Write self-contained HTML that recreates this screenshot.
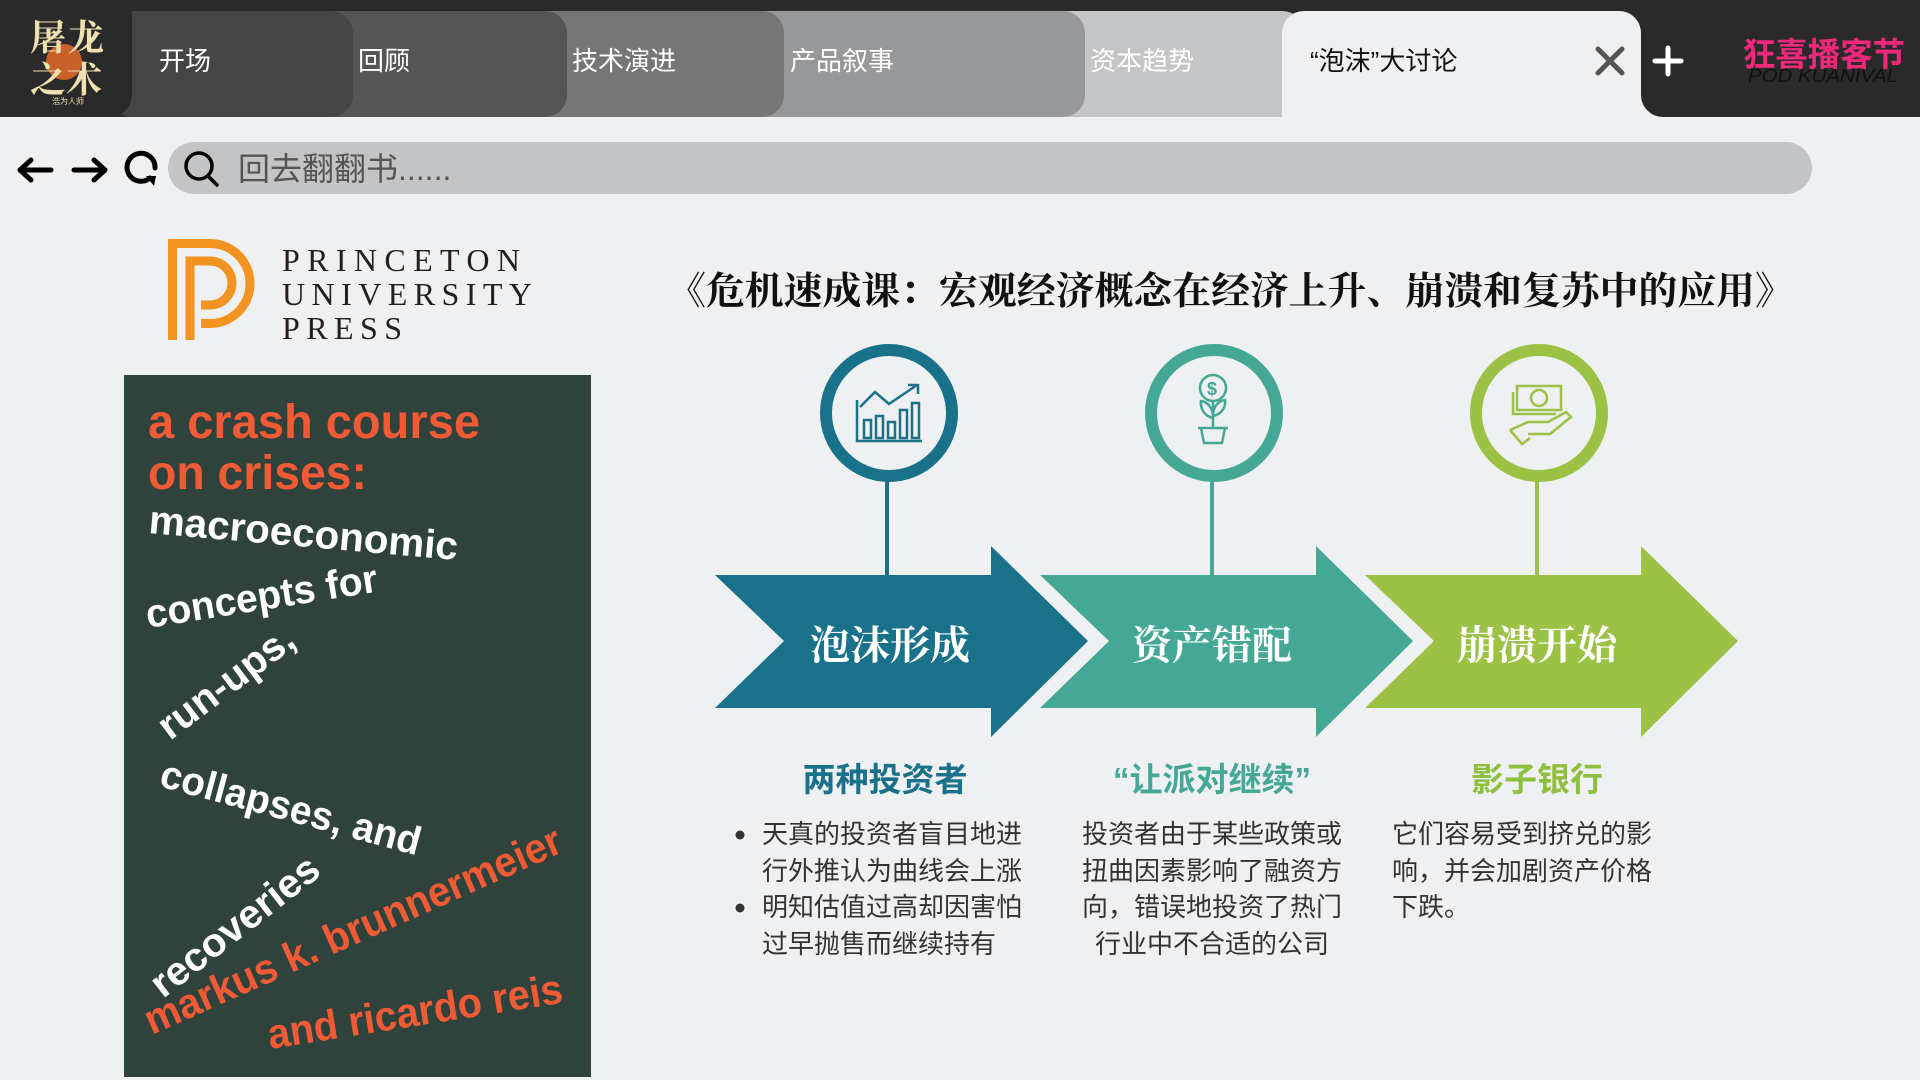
<!DOCTYPE html>
<html><head><meta charset="utf-8">
<style>
html,body{margin:0;padding:0;width:1920px;height:1080px;overflow:hidden;background:#eff0f2;}
svg{display:block}
.cjk{font-family:"Liberation Sans","Noto Sans CJK SC",sans-serif;}
.serif{font-family:"Liberation Serif","Noto Serif CJK SC",serif;}
</style></head>
<body>
<svg width="1920" height="1080" viewBox="0 0 1920 1080" xmlns="http://www.w3.org/2000/svg">
<rect x="0" y="0" width="1920" height="1080" fill="#eff0f2"/>
<!-- top bar -->
<rect x="0" y="0" width="1920" height="117" fill="#2a2a2a"/>
<path d="M1641,117 V95 a22,22 0 0 0 22,22 Z" fill="#eff0f2"/>
<rect x="1041" y="11" width="263" height="106" rx="22" fill="#c4c5c7"/>
<rect x="740" y="11" width="345" height="106" rx="22" fill="#97989a"/>
<rect x="523" y="11" width="261" height="106" rx="22" fill="#767676"/>
<rect x="309" y="11" width="258" height="106" rx="22" fill="#555555"/>
<rect x="110" y="11" width="243" height="106" rx="22" fill="#454545"/>
<rect x="-30" y="-10" width="162" height="127" rx="22" fill="#2a2a2a"/>
<path d="M1282,117 V33 a22,22 0 0 1 22,-22 H1619 a22,22 0 0 1 22,22 V117 Z" fill="#eff0f2"/>
<g class="cjk" font-size="26" fill="#fff">
<text x="159" y="70">开场</text>
<text x="358" y="70">回顾</text>
<text x="572" y="70">技术演进</text>
<text x="790" y="70">产品叙事</text>
<text x="1090" y="70">资本趋势</text>
<text x="1310" y="70" fill="#111">“泡沫”大讨论</text>
</g>
<!-- close & plus -->
<path d="M1598,49 L1622,73 M1622,49 L1598,73" stroke="#555" stroke-width="5" stroke-linecap="round"/>
<path d="M1668,48 V74 M1655,61 H1681" stroke="#fff" stroke-width="5" stroke-linecap="round"/>
<!-- left logo -->
<circle cx="64" cy="62" r="18" fill="#c8612a"/>
<g class="serif" fill="#efe0b0" font-weight="bold" font-size="36">
<text x="30" y="50">屠</text><text x="68" y="50">龙</text>
<text x="30" y="92">之</text><text x="66" y="92">术</text>
</g>
<text x="52" y="104" class="cjk" font-size="8" fill="#efe0b0">浩为人师</text>
<!-- right logo -->
<text x="1743" y="66" class="cjk" font-size="33" font-weight="bold" fill="#f0287a" textLength="162" lengthAdjust="spacingAndGlyphs">狂喜播客节</text>
<text x="1748" y="82" font-family="Liberation Sans, sans-serif" font-style="italic" font-size="18" fill="#111" textLength="150" lengthAdjust="spacingAndGlyphs">POD KUANIVAL</text>
<!-- nav -->
<g stroke="#000" stroke-width="5" fill="none" stroke-linecap="round" stroke-linejoin="round">
<path d="M20,170 H51 M31,160 L20,170 L31,180"/>
<path d="M74,170 H105 M94,160 L105,170 L94,180"/>
<path d="M150,178 A14,14 0 1 1 155,168" />
</g>
<path d="M146,176 L156,176 L154,186 Z" fill="#000"/>
<rect x="168" y="142" width="1644" height="52" rx="26" fill="#c3c4c6"/>
<circle cx="199" cy="166" r="13" fill="none" stroke="#000" stroke-width="3.5"/>
<path d="M208,176 L217,185" stroke="#000" stroke-width="3.5" stroke-linecap="round"/>
<text x="238" y="180" class="cjk" font-size="32" fill="#555">回去翻翻书......</text>
<!-- Princeton logo -->
<g fill="none" stroke="#f39322" stroke-width="9">
<path d="M172.5,340 V243.5 H210 A40,40 0 0 1 210,323.5 H201"/>
<path d="M190,340 V261 H210 A22,22 0 0 1 210,305 H201"/>
</g>
<g font-family="Liberation Serif, serif" font-size="32" fill="#231f20">
<text x="282" y="271" textLength="238" lengthAdjust="spacing">PRINCETON</text>
<text x="282" y="305" textLength="250" lengthAdjust="spacing">UNIVERSITY</text>
<text x="282" y="339" textLength="120" lengthAdjust="spacing">PRESS</text>
</g>
<!-- book cover -->
<rect x="124" y="375" width="467" height="702" fill="#2f423b"/>
<g font-family="Liberation Sans, sans-serif" font-weight="bold">
<text x="148" y="438" font-size="48" fill="#f05a35" textLength="332" lengthAdjust="spacingAndGlyphs">a crash course</text>
<text x="148" y="489" font-size="48" fill="#f05a35" textLength="219" lengthAdjust="spacingAndGlyphs">on crises:</text>
<g fill="#fff" font-size="40">
<text x="148" y="533" transform="rotate(5 148 533)" textLength="310" lengthAdjust="spacingAndGlyphs">macroeconomic</text>
<text x="148" y="628" transform="rotate(-9 148 628)" textLength="234" lengthAdjust="spacingAndGlyphs">concepts for</text>
<text x="170" y="741" transform="rotate(-37 170 741)" textLength="160" lengthAdjust="spacingAndGlyphs">run-ups,</text>
<text x="158" y="786" transform="rotate(15 158 786)" textLength="268" lengthAdjust="spacingAndGlyphs">collapses, and</text>
<text x="163" y="999" transform="rotate(-38 163 999)" textLength="203" lengthAdjust="spacingAndGlyphs">recoveries</text>
</g>
<g fill="#f05a35" font-size="42">
<text x="152" y="1035" transform="rotate(-24 152 1035)" textLength="452" lengthAdjust="spacingAndGlyphs">markus k. brunnermeier</text>
<text x="270" y="1049" transform="rotate(-9 270 1049)" textLength="298" lengthAdjust="spacingAndGlyphs">and  ricardo reis</text>
</g>
</g>
<!-- title -->
<text x="667" y="304" class="serif" font-size="38" font-weight="bold" fill="#111" textLength="1127" lengthAdjust="spacingAndGlyphs">《危机速成课：宏观经济概念在经济上升、崩溃和复苏中的应用》</text>
<!-- connectors -->
<g stroke-width="4">
<line x1="887" y1="480" x2="887" y2="576" stroke="#1a718a"/>
<line x1="1212" y1="480" x2="1212" y2="576" stroke="#45a896"/>
<line x1="1537" y1="480" x2="1537" y2="576" stroke="#9bc244"/>
</g>
<!-- circles -->
<circle cx="889" cy="413" r="63" fill="#eff0f2" stroke="#1a718a" stroke-width="12"/>
<circle cx="1214" cy="413" r="63" fill="#eff0f2" stroke="#45a896" stroke-width="12"/>
<circle cx="1539" cy="413" r="63" fill="#eff0f2" stroke="#9bc244" stroke-width="12"/>
<!-- icons -->
<g fill="none" stroke="#1a718a" stroke-width="2.5">
<path d="M857,400 V441 H922"/>
<rect x="864" y="420" width="7" height="18"/><rect x="876" y="416" width="7" height="22"/><rect x="888" y="422" width="7" height="16"/><rect x="900" y="410" width="7" height="28"/><rect x="912" y="403" width="7" height="35"/>
<path d="M860,407 L875,392 L889,404 L917,385 M908,385 H918 V394"/>
</g>
<g fill="none" stroke="#45a896" stroke-width="2.5">
<circle cx="1213" cy="388" r="13"/>
<text x="1207" y="395" font-family="Liberation Sans" font-size="18" fill="#45a896" stroke="none" font-weight="bold">$</text>
<path d="M1213,401 V428 M1213,418 C1204,416 1200,408 1201,401 C1208,402 1213,408 1213,418 M1213,416 C1222,414 1226,407 1225,400 C1218,401 1213,407 1213,416"/>
<path d="M1198,428 H1228 M1201,428 L1204,443 H1222 L1225,428"/>
</g>
<g fill="none" stroke="#9bc244" stroke-width="2.5">
<rect x="1517" y="386" width="44" height="24"/>
<circle cx="1539" cy="398" r="8"/>
<path d="M1513,392 V414 H1556"/>
<path d="M1510,430 L1528,422 H1548 L1566,412 L1571,417 L1550,434 H1528 M1510,430 L1522,444 L1530,438"/>
</g>
<!-- arrows -->
<polygon points="715,575 991,575 991,546 1088,641 991,737 991,708 715,708 784,641" fill="#1a718a"/>
<polygon points="1040,575 1316,575 1316,546 1413,641 1316,737 1316,708 1040,708 1109,641" fill="#45a896"/>
<polygon points="1365,575 1641,575 1641,546 1738,641 1641,737 1641,708 1365,708 1434,641" fill="#9bc244"/>
<g class="serif" font-size="40" font-weight="bold" fill="#fff" text-anchor="middle">
<text x="890" y="659">泡沫形成</text>
<text x="1212" y="659">资产错配</text>
<text x="1537" y="659">崩溃开始</text>
</g>
<!-- subtitles -->
<g class="cjk" font-size="33" font-weight="bold" text-anchor="middle">
<text x="885" y="791" fill="#1a718a">两种投资者</text>
<text x="1212" y="791" fill="#45a896">“让派对继续”</text>
<text x="1537" y="791" fill="#8fbf3f">影子银行</text>
</g>
<!-- body -->
<g class="cjk" font-size="26" fill="#333">
<circle cx="740" cy="835" r="4.5" fill="#333"/>
<circle cx="740" cy="908" r="4.5" fill="#333"/>
<text x="762" y="843">天真的投资者盲目地进</text>
<text x="762" y="880">行外推认为曲线会上涨</text>
<text x="762" y="916">明知估值过高却因害怕</text>
<text x="762" y="953">过早抛售而继续持有</text>
<g text-anchor="middle">
<text x="1212" y="843">投资者由于某些政策或</text>
<text x="1212" y="880">扭曲因素影响了融资方</text>
<text x="1212" y="916">向，错误地投资了热门</text>
<text x="1212" y="953">行业中不合适的公司</text>
</g>
<text x="1392" y="843">它们容易受到挤兑的影</text>
<text x="1392" y="880">响，并会加剧资产价格</text>
<text x="1392" y="916">下跌。</text>
</g>
</svg>
</body></html>
